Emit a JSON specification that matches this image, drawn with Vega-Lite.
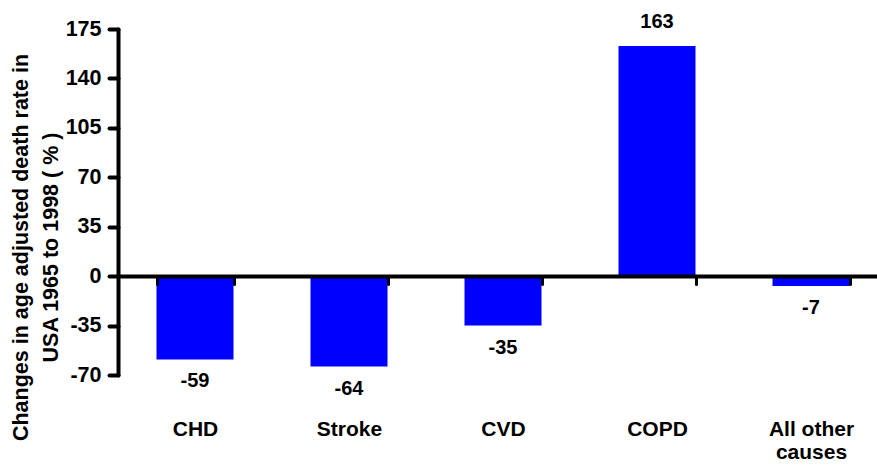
{
  "$schema": "https://vega.github.io/schema/vega-lite/v6.json",
  "width": 770,
  "height": 346,
  "autosize": {"type": "none"},
  "padding": {"left": 118, "top": 29, "right": 0, "bottom": 95},
  "background": "white",
  "config": {
    "view": {"stroke": null},
    "font": "Liberation Sans",
    "axis": {"labelFont": "Liberation Sans", "titleFont": "Liberation Sans"}
  },
  "data": {
    "values": [
      {"cause": "CHD", "change": -59},
      {"cause": "Stroke", "change": -64},
      {"cause": "CVD", "change": -35},
      {"cause": "COPD", "change": 163},
      {"cause": "All other causes", "change": -7}
    ]
  },
  "encoding": {
    "x": {
      "field": "cause",
      "type": "nominal",
      "sort": null,
      "scale": {"paddingInner": 0.5, "paddingOuter": 0.25},
      "axis": {
        "title": null,
        "orient": "bottom",
        "offset": -99,
        "zindex": 1,
        "domainWidth": 4,
        "domainColor": "black",
        "tickBand": "extent",
        "tickSize": 8,
        "tickWidth": 3,
        "tickColor": "black",
        "tickCap": "round",
        "labelAngle": 0,
        "labelFontSize": 21,
        "labelFontWeight": "bold",
        "labelColor": "black",
        "labelPadding": 134,
        "labelLineHeight": 23,
        "labelExpr": "datum.value == 'All other causes' ? ['All other', 'causes'] : datum.value"
      }
    },
    "y": {
      "field": "change",
      "type": "quantitative",
      "scale": {"domain": [-70, 175], "nice": false},
      "axis": {
        "title": ["Changes in age adjusted death rate in", "USA 1965 to 1998 ( % )"],
        "values": [-70, -35, 0, 35, 70, 105, 140, 175],
        "labelExpr": "toString(datum.value)",
        "grid": false,
        "zindex": 1,
        "domainWidth": 4,
        "domainColor": "black",
        "domainCap": "round",
        "tickSize": 9,
        "tickWidth": 4,
        "tickColor": "black",
        "tickCap": "round",
        "labelFontSize": 21.5,
        "labelFontWeight": "bold",
        "labelColor": "black",
        "labelPadding": 8,
        "titleFontSize": 21.5,
        "titleFontWeight": "bold",
        "titleColor": "black",
        "titleAngle": -90,
        "titleAlign": "center",
        "titleBaseline": "top",
        "titleLineHeight": 30,
        "titleX": -108,
        "titleY": 218
      }
    }
  },
  "layer": [
    {"mark": {"type": "bar", "color": "#0000FF"}},
    {
      "transform": [{"filter": "datum.change >= 0"}],
      "mark": {"type": "text", "baseline": "alphabetic", "dy": -18, "fontSize": 20, "fontWeight": "bold", "color": "black"},
      "encoding": {"text": {"field": "change", "type": "nominal"}}
    },
    {
      "transform": [{"filter": "datum.change < 0"}],
      "mark": {"type": "text", "baseline": "top", "dy": 12, "fontSize": 20, "fontWeight": "bold", "color": "black"},
      "encoding": {"text": {"field": "change", "type": "nominal"}}
    }
  ]
}
